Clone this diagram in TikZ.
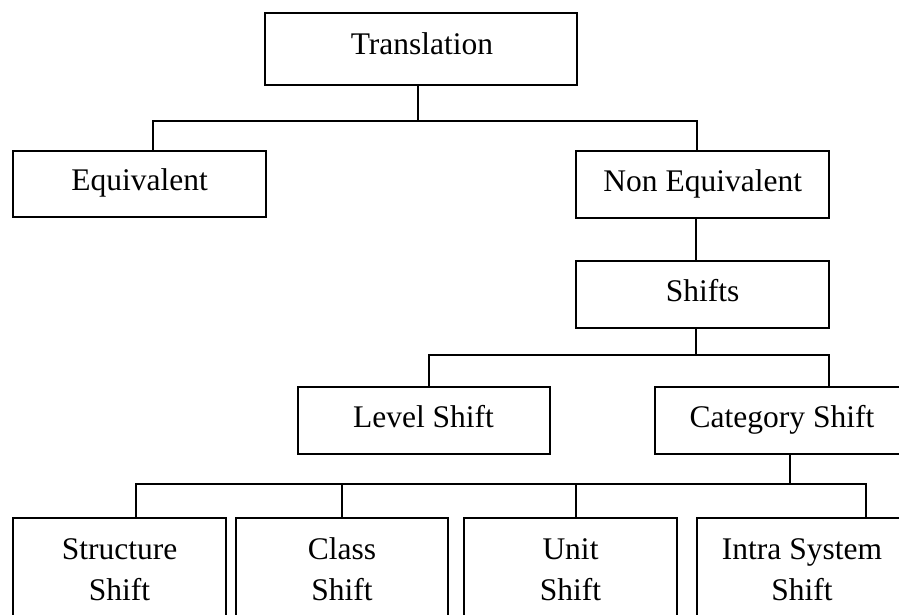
\documentclass[tikz,border=0pt]{standalone}
\usepackage{fontspec}
\setmainfont{Liberation Serif}
\begin{document}
\begin{tikzpicture}[x=1pt,y=-1pt,line width=1.7pt,
  box/.style={draw,rectangle,inner sep=0pt,minimum width=#1},
  box/.default=253pt,
  lbl/.style={anchor=base,inner sep=0pt,font=\fontsize{31.5}{36}\selectfont},
  conn/.style={line width=1.7pt}]
\useasboundingbox (0,0) rectangle (899,614);
\clip (0,0) rectangle (899,614);
% boxes
\node[box=312pt,minimum height=72pt] (trans) at (421,49) {};
\node[box=253pt,minimum height=66pt] (equiv) at (139.5,184) {};
\node[box=253pt,minimum height=67pt] (noneq) at (702.5,184.5) {};
\node[box=253pt,minimum height=67pt] (shifts) at (702.5,294.5) {};
\node[box=252pt,minimum height=67pt] (level) at (424,420.5) {};
\node[box=254pt,minimum height=67pt] (cat) at (782,420.5) {};
\node[box=213pt,minimum height=102pt] (struct) at (119.5,569) {};
\node[box=212pt,minimum height=102pt] (class) at (342,569) {};
\node[box=213pt,minimum height=102pt] (unit) at (570.5,569) {};
\node[box=210pt,minimum height=102pt] (intra) at (802,569) {};
% texts
\node[lbl] (ttrans) at (422,54.3) {Translation};
\node[lbl] (tequiv) at (139.5,190.7) {Equivalent};
\node[lbl] (tnoneq) at (702.7,191) {Non Equivalent};
\node[lbl] (tshifts) at (702.7,301) {Shifts};
\node[lbl] (tlevel) at (423.5,427.3) {Level Shift};
\node[lbl] (tcat) at (782,427.3) {Category Shift};
\node[lbl] (tstruct1) at (119.5,559) {Structure};
\node[lbl] (tstruct2) at (119.5,600.7) {Shift};
\node[lbl] (tclass1) at (342,559) {Class};
\node[lbl] (tclass2) at (342,600.7) {Shift};
\node[lbl] (tunit1) at (570.5,559) {Unit};
\node[lbl] (tunit2) at (570.5,600.7) {Shift};
\node[lbl] (tintra1) at (802,559) {Intra System};
\node[lbl] (tintra2) at (802,600.7) {Shift};
% connectors
\draw[conn] ([xshift=-3pt]trans.south) -- ++(0,35) coordinate (j1);
\draw[conn] ([xshift=13.5pt]equiv.north) |- (j1) -| ([xshift=-5.5pt]noneq.north);
\draw[conn] ([xshift=-6.5pt]noneq.south) -- ([xshift=-6.5pt]shifts.north);
\draw[conn] ([xshift=-6.5pt]shifts.south) -- ++(0,26) coordinate (j2);
\draw[conn] ([xshift=5pt]level.north) |- (j2) -| ([xshift=47pt]cat.north);
\draw[conn] ([xshift=8pt]cat.south) -- ++(0,29) coordinate (j3);
\draw[conn] ([xshift=16.5pt]struct.north) |- (j3) -| ([xshift=64pt]intra.north);
\draw[conn] (class.north) -- (class.north |- j3);
\draw[conn] ([xshift=5.5pt]unit.north) -- ([xshift=5.5pt]unit.north |- j3);
\end{tikzpicture}
\end{document}
